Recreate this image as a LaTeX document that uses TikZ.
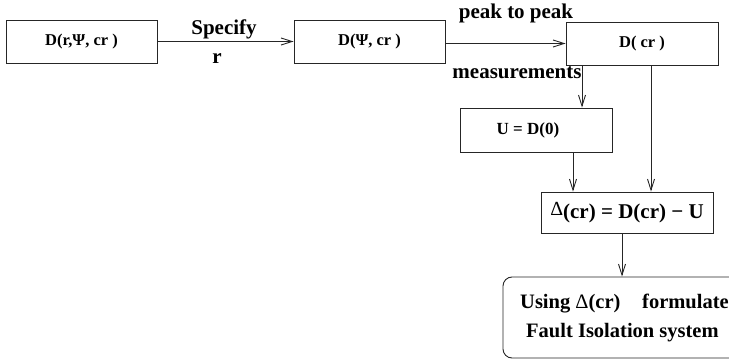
\documentclass[tikz,border=0pt]{standalone}
\usepackage{fontspec}
\setmainfont{Liberation Serif}
\usetikzlibrary{arrows.meta}
\begin{document}
\begin{tikzpicture}[x=1pt,y=-1pt,
  box/.style={draw=black!85,line width=0.9pt,inner sep=0pt,font=\fontsize{16.5}{18}\selectfont\bfseries},
  arr/.style={draw=black!85,line width=0.9pt,-{Straight Barb[length=11pt,width=7pt]}},
  lbl/.style={font=\fontsize{21}{24}\selectfont\bfseries,inner sep=0pt},
  big/.style={font=\fontsize{20.5}{24}\selectfont\bfseries,inner sep=0pt}]
\useasboundingbox (0,0) rectangle (729,361);
\clip (0,0) rectangle (729,361);
\node[box,minimum width=151pt,minimum height=43pt] (b1) at (81.5,41.5) {D(r,Ψ, cr )};
\node[box,minimum width=151pt,minimum height=43pt] (b2) at (369.5,41.5) {D(Ψ, cr )};
\node[box,minimum width=152pt,minimum height=43pt] (b3) at (642,43.5) {D( cr )};
\node[box,minimum width=152pt,minimum height=44pt,font=\fontsize{17}{18}\selectfont\bfseries] (bu) at (536,130) {U = D(0)\kern16pt};
\node[box,minimum width=172pt,minimum height=41pt,font=\fontsize{21}{24}\selectfont\bfseries] (bd) at (627,212.5) {\raisebox{3pt}{\fontsize{20}{22}\selectfont\mdseries Δ}(cr) = D(cr) − U};
\node[box,rounded corners=9pt,minimum width=256pt,minimum height=81pt] (bf) at (631,317.5) {};
\node[big,anchor=base west] (t1) at (520,308) {Using {\mdseries Δ}(cr)};
\node[big,anchor=base west] (t1b) at (642,308) {formulate};
\node[big,anchor=base west] (t2) at (526,337) {Fault Isolation system};
\node[lbl,anchor=base] (spec) at (224,35) {Specify};
\node[lbl,anchor=base] (r) at (217,64) {r};
\node[lbl,anchor=base] (p2p) at (516,19) {peak to peak};
\node[lbl,anchor=base] (meas) at (517,78) {measurements};
\draw[arr] (b1.east) -- (b2.west);
\draw[arr] (b2.east |- b3.west) -- (b3.west);
\draw[arr] ([xshift=-60pt]b3.south) -- ([xshift=-60pt]b3.south |- bu.north);
\draw[arr] ([xshift=9pt]b3.south) -- ([xshift=9pt]b3.south |- bd.north);
\draw[arr] ([xshift=37pt]bu.south) -- ([xshift=37pt]bu.south |- bd.north);
\draw[arr] ([xshift=-5pt]bd.south) -- ([xshift=-5pt]bd.south |- bf.north);
\end{tikzpicture}
\end{document}
